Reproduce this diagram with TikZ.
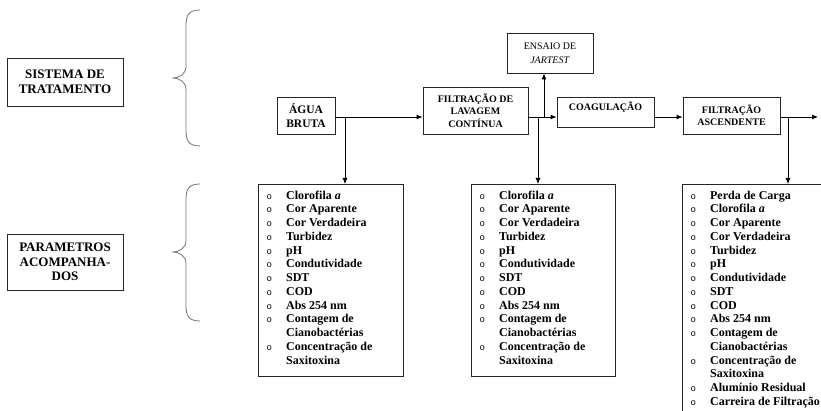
\documentclass[tikz,border=0pt]{standalone}
\usepackage{fontspec}
\setmainfont{Liberation Serif}
\newfontfamily\marcador{Liberation Mono}
\usetikzlibrary{arrows.meta}

\newcommand{\marca}{{\marcador\mdseries\fontsize{9}{9}\selectfont o}}
\newcommand{\linhascomuns}{%
\marca & Clorofila \textit{a}\\
\marca & Cor Aparente\\
\marca & Cor Verdadeira\\
\marca & Turbidez\\
\marca & pH\\
\marca & Condutividade\\
\marca & SDT\\
\marca & COD\\
\marca & Abs 254 nm\\
\marca & Contagem de\\
 & Cianobactérias\\
\marca & Concentração de\\
 & Saxitoxina\\}

\tikzset{
  etapa/.style={draw=black!85, line width=0.8pt, align=center, inner sep=2pt,
    font=\bfseries\fontsize{10}{12.5}\selectfont},
  rotulo/.style={draw=black!85, line width=0.8pt, align=center, minimum width=116,
    font=\bfseries\fontsize{13}{14.5}\selectfont},
  caixa/.style={draw=black!85, line width=0.8pt, anchor=north west, inner sep=0pt},
  lista/.style={anchor=north west, inner sep=0pt,
    font=\bfseries\fontsize{12}{13.75}\selectfont},
  seta/.style={line width=0.8pt, -{Latex[length=6pt,width=5pt]}},
  chave/.style={draw=black!55, line width=0.8pt}
}

\begin{document}
\begin{tikzpicture}[x=1pt,y=-1pt]
    \useasboundingbox (0,0) rectangle (821,411);
    \clip (0,0) rectangle (821,411);

    % rotulos da esquerda
    \node[rotulo, minimum height=48] (sistema) at (65,82) {SISTEMA DE\\TRATAMENTO};
    \node[rotulo, minimum height=56] (parametros) at (65,262) {PARAMETROS\\ACOMPANHA-\\DOS};

    \draw[chave] (200,10) .. controls (188,10) and (186,16) .. (186,26) -- (186,66) .. controls (186,74) and (180,78) .. (172,78) .. controls (180,78) and (186,82) .. (186,90) -- (186,130) .. controls (186,140) and (188,146) .. (200,146);
    \draw[chave] (200,184) .. controls (188,184) and (186,190) .. (186,200) -- (186,240) .. controls (186,248) and (180,252) .. (172,252) .. controls (180,252) and (186,256) .. (186,264) -- (186,305) .. controls (186,315) and (188,321) .. (200,321);

    % etapas
    \node[etapa, minimum width=58, minimum height=37, font=\bfseries\fontsize{11.5}{14}\selectfont] (agua) at (306,115.5) {ÁGUA\\BRUTA};
    \node[etapa, minimum width=105, minimum height=47] (lavagem) at (475.5,110.5) {FILTRAÇÃO DE\\LAVAGEM\\CONTÍNUA};
    \node[etapa, minimum width=97, minimum height=30, text depth=12pt] (coag) at (605.5,112) {COAGULAÇÃO};
    \node[etapa, minimum width=97, minimum height=37] (ascend) at (731.5,115.5) {FILTRAÇÃO\\ASCENDENTE};
    \node[etapa, minimum width=86, minimum height=40, font=\fontsize{10}{14}\selectfont] (jartest) at (550,53) {ENSAIO DE\\\textit{JARTEST}};

    % caixas de parametros
    \node[caixa, minimum width=145, minimum height=192] (p1) at (258,184) {};
    \node[caixa, minimum width=144, minimum height=192] (p2) at (471,184) {};
    \node[caixa, minimum width=150, minimum height=240] (p3) at (682,184) {};

    \node[lista] (l1) at ([xshift=8.5pt,yshift=-5.4pt]p1.north west) {\begin{tabular}{@{}l@{\hspace{14pt}}l@{}}\linhascomuns\end{tabular}};
    \node[lista] (l2) at ([xshift=8.5pt,yshift=-5.4pt]p2.north west) {\begin{tabular}{@{}l@{\hspace{14pt}}l@{}}\linhascomuns\end{tabular}};
    \node[lista] (l3) at ([xshift=8.5pt,yshift=-5.4pt]p3.north west) {\begin{tabular}{@{}l@{\hspace{14pt}}l@{}}
      \marca & Perda de Carga\\
      \linhascomuns
      \marca & Alumínio Residual\\
      \marca & Carreira de Filtração\\
    \end{tabular}};

    % ligacoes
    \coordinate (linha) at (0,117);
    \coordinate (d1) at (345,117);
    \coordinate (d2) at (538,117);
    \coordinate (sobe) at (544,117);
    \coordinate (d3) at (788,117);
    \coordinate (saida) at (818,117);

    \draw[seta] (agua.east |- linha) -- (lavagem.west |- linha);
    \draw[seta] (d1) -- (p1.north -| d1);
    \draw[seta] (lavagem.east |- linha) -- (coag.west |- linha);
    \draw[seta] (sobe) -- (jartest.south -| sobe);
    \draw[seta] (d2) -- (p2.north -| d2);
    \draw[seta] (coag.east |- linha) -- (ascend.west |- linha);
    \draw[seta] (ascend.east |- linha) -- (saida);
    \draw[seta] (d3) -- (p3.north -| d3);
\end{tikzpicture}
\end{document}
